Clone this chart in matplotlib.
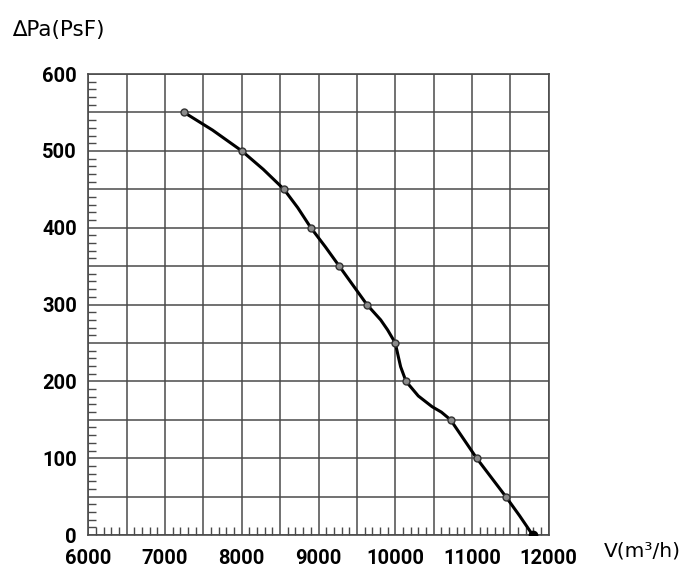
import matplotlib
matplotlib.use("Agg")
import matplotlib.pyplot as plt
from matplotlib.ticker import MultipleLocator, FuncFormatter

# 风量 / 静压 测点
flow_pts = [7250, 8000, 8550, 8900, 9270, 9630, 10000, 10140, 10720, 11060, 11440, 11790]
press_pts = [550, 500, 450, 400, 350, 300, 250, 200, 150, 100, 50, 0]

# 曲线走向（从图上读取的沿线位置）
curve_flow = [7250, 7620, 8000, 8280, 8550, 8730, 8900, 9090, 9270, 9450, 9630, 9810,
              9900, 10000, 10040, 10070, 10140, 10300, 10480, 10600, 10720, 10890,
              11060, 11250, 11440, 11620, 11790]
curve_press = [550, 527, 500, 476, 450, 426, 400, 375, 350, 325, 300, 280,
               267, 250, 232, 219, 200, 181, 167, 160, 150, 125,
               100, 75, 50, 25, 0]

x_labels = [6000, 7000, 8000, 9000, 10000, 11000, 12000]
y_labels = [0, 100, 200, 300, 400, 500, 600]

grid_color = "#4a4a4a"
tick_font = ["Roboto", "DejaVu Sans"]
title_font = ["DejaVu Sans"]

fig = plt.figure(figsize=(7.0, 5.83), dpi=100)
ax = fig.add_axes([0.126, 0.0823, 0.658, 0.7907])

ax.set_xlim(6000, 12000)
ax.set_ylim(0, 600)

ax.xaxis.set_major_locator(MultipleLocator(500))
ax.xaxis.set_minor_locator(MultipleLocator(100))
ax.yaxis.set_major_locator(MultipleLocator(50))
ax.yaxis.set_minor_locator(MultipleLocator(10))

ax.xaxis.set_major_formatter(FuncFormatter(lambda v, p: f"{int(v)}" if int(v) in x_labels else ""))
ax.yaxis.set_major_formatter(FuncFormatter(lambda v, p: f"{int(v)}" if int(v) in y_labels else ""))

ax.grid(True, which="major", color=grid_color, linewidth=1.1)
ax.tick_params(which="major", length=0, pad=10, labelsize=14.5, labelcolor="black")
ax.tick_params(axis="y", which="major", pad=8)
ax.tick_params(which="minor", direction="in", length=6, width=1.0, color=grid_color)
for s in ax.spines.values():
    s.set_color(grid_color)
    s.set_linewidth(1.2)

for lab in ax.get_xticklabels() + ax.get_yticklabels():
    lab.set_family(tick_font)
    lab.set_fontweight("bold")

ax.plot(curve_flow, curve_press, color="black", linewidth=2.2, zorder=3, solid_capstyle="round")
ax.plot(flow_pts[:-1], press_pts[:-1], "o", markersize=5, markerfacecolor="#8a8a8a",
        markeredgecolor="#333333", markeredgewidth=1.0, zorder=4)
ax.plot(flow_pts[-1:], press_pts[-1:], "o", markersize=6, color="black", zorder=4)

fig.text(0.017, 0.948, "\u2206Pa(PsF)", fontsize=15.5, family=title_font, va="center", ha="left")
fig.text(0.862, 0.055, "V(m\u00b3/h)", fontsize=14.5, family=title_font, va="center", ha="left")

fig.savefig("out.png", dpi=100)
